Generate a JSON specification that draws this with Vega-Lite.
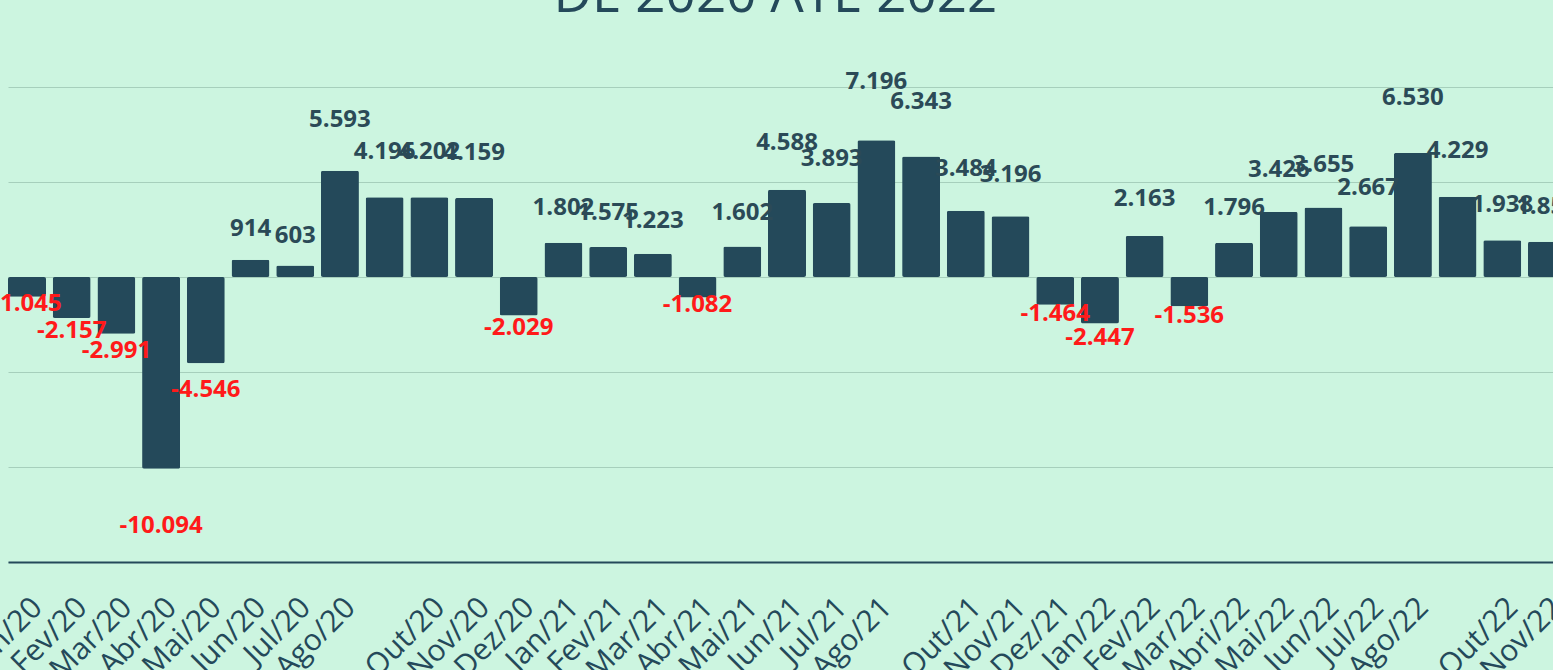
{
  "$schema": "https://vega.github.io/schema/vega-lite/v6.json",
  "autosize": {"type": "none"},
  "width": 1545,
  "height": 475,
  "padding": {"left": 8, "top": 87, "right": 0, "bottom": 108},
  "background": "#CCF5E0",
  "title": {
    "text": "DE 2020 ATÉ 2022",
    "fontSize": 53,
    "font": "Open Sans",
    "fontWeight": 400,
    "color": "#24495A",
    "offset": 5,
    "baseline": "alphabetic",
    "anchor": "middle",
    "dx": -5
  },
  "config": {
    "view": {"stroke": null},
    "locale": {"number": {"decimal": ",", "thousands": ".", "grouping": [3], "currency": ["R$", ""], "minus": "-"}}
  },
  "data": {
    "values": [
      {"mes": "Jan/20", "saldo": -1045},
      {"mes": "Fev/20", "saldo": -2157},
      {"mes": "Mar/20", "saldo": -2991},
      {"mes": "Abr/20", "saldo": -10094},
      {"mes": "Mai/20", "saldo": -4546},
      {"mes": "Jun/20", "saldo": 914},
      {"mes": "Jul/20", "saldo": 603},
      {"mes": "Ago/20", "saldo": 5593},
      {"mes": "Set/20", "saldo": 4196},
      {"mes": "Out/20", "saldo": 4202},
      {"mes": "Nov/20", "saldo": 4159},
      {"mes": "Dez/20", "saldo": -2029},
      {"mes": "Jan/21", "saldo": 1802},
      {"mes": "Fev/21", "saldo": 1575},
      {"mes": "Mar/21", "saldo": 1223},
      {"mes": "Abr/21", "saldo": -1082},
      {"mes": "Mai/21", "saldo": 1602},
      {"mes": "Jun/21", "saldo": 4588},
      {"mes": "Jul/21", "saldo": 3893},
      {"mes": "Ago/21", "saldo": 7196},
      {"mes": "Set/21", "saldo": 6343},
      {"mes": "Out/21", "saldo": 3484},
      {"mes": "Nov/21", "saldo": 3196},
      {"mes": "Dez/21", "saldo": -1464},
      {"mes": "Jan/22", "saldo": -2447},
      {"mes": "Fev/22", "saldo": 2163},
      {"mes": "Mar/22", "saldo": -1536},
      {"mes": "Abri/22", "saldo": 1796},
      {"mes": "Mai/22", "saldo": 3426},
      {"mes": "Jun/22", "saldo": 3655},
      {"mes": "Jul/22", "saldo": 2667},
      {"mes": "Ago/22", "saldo": 6530},
      {"mes": "Set/22", "saldo": 4229},
      {"mes": "Out/22", "saldo": 1938},
      {"mes": "Nov/22", "saldo": 1851}
    ]
  },
  "encoding": {
    "x": {
      "field": "mes",
      "type": "nominal",
      "sort": null,
      "scale": {"paddingInner": 0.15, "paddingOuter": 0, "range": [0, 1558]},
      "axis": {
        "title": null,
        "labelAngle": -45,
        "labelFontSize": 30,
        "labelFont": "Open Sans",
        "labelColor": "#24495A",
        "ticks": false,
        "domainColor": "#24495A",
        "domainWidth": 2,
        "labelPadding": 30,
        "labelOverlap": false,
        "labelBound": false,
        "grid": false,
        "labelExpr": "indexof(datum.value, 'Set') === 0 ? '' : datum.value"
      }
    }
  },
  "layer": [
    {
      "mark": {"type": "bar", "color": "#24495A", "cornerRadius": 2},
      "encoding": {
        "y": {
          "field": "saldo",
          "type": "quantitative",
          "scale": {"domain": [-15000, 10000], "nice": false, "zero": true},
          "axis": {
            "title": null,
            "labels": false,
            "ticks": false,
            "domain": false,
            "grid": true,
            "gridColor": "#A6CFBC",
            "gridWidth": 1,
            "values": [-15000, -10000, -5000, 0, 5000, 10000]
          }
        }
      }
    },
    {
      "transform": [{"filter": "datum.saldo > 0"}],
      "mark": {"type": "text", "font": "Open Sans", "fontSize": 24, "fontWeight": "bold", "color": "#2B4A57", "baseline": "middle", "dy": 6},
      "encoding": {
        "y": {"field": "saldo", "type": "quantitative", "scale": {"domain": [-13670, 6738], "nice": false, "zero": false}, "axis": null},
        "text": {"field": "saldo", "type": "quantitative", "format": ",d"}
      }
    },
    {
      "transform": [{"filter": "datum.saldo < 0"}],
      "mark": {"type": "text", "font": "Open Sans", "fontSize": 24, "fontWeight": "bold", "color": "#FF1A1A", "baseline": "middle", "dy": 1},
      "encoding": {
        "y": {"field": "saldo", "type": "quantitative", "scale": {"domain": [-11600, 7734], "nice": false, "zero": false}, "axis": null},
        "text": {"field": "saldo", "type": "quantitative", "format": ",d"}
      }
    }
  ],
  "resolve": {"scale": {"y": "independent"}}
}
